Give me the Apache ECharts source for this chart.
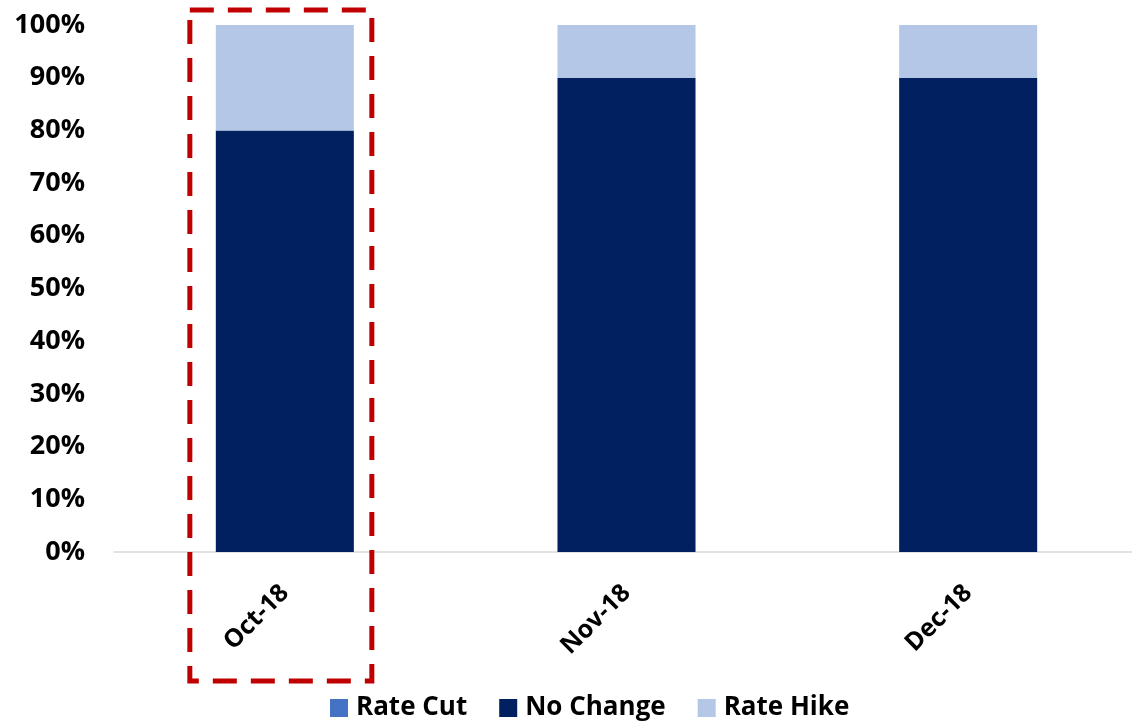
<!DOCTYPE html>
<html>
<head>
<meta charset="utf-8">
<script src="https://cdn.jsdelivr.net/npm/echarts@6/dist/echarts.min.js"></script>
<style>
  html, body { margin: 0; padding: 0; background: #fff; overflow: hidden; }
  #chart { width: 1139px; height: 727px; }
</style>
</head>
<body>
<div id="chart"></div>
<script>
const categories = ['Oct-18', 'Nov-18', 'Dec-18'];
const rateCut = [0, 0, 0];
const noChange = [80, 90, 90];
const rateHike = [20, 10, 10];

const chart = echarts.init(document.getElementById('chart'));
const font = '"Open Sans", "Liberation Sans", sans-serif';

const barSeries = (name, data, color) => ({
  name,
  type: 'bar',
  stack: 'total',
  data,
  barWidth: '40.4%',
  itemStyle: { color }
});

chart.setOption({
  animation: false,
  textStyle: { fontFamily: font },
  grid: { left: 114, right: 0, top: 25, bottom: 175 },
  legend: {
    bottom: 1,
    left: 325,
    itemWidth: 18,
    itemHeight: 18,
    itemGap: 32,
    icon: 'rect',
    textStyle: { fontSize: 26, fontWeight: 'bold', color: '#000', fontFamily: font, padding: [0, 0, 0, 3] }
  },
  xAxis: {
    type: 'category',
    data: categories,
    axisLine: { lineStyle: { color: '#d9d9d9', width: 1.5 } },
    axisTick: { show: false },
    axisLabel: {
      rotate: 45,
      margin: 37,
      fontSize: 25,
      fontWeight: 'bold',
      color: '#000',
      fontFamily: font
    }
  },
  yAxis: {
    type: 'value',
    min: 0,
    max: 100,
    interval: 10,
    splitLine: { show: false },
    axisLine: { show: false },
    axisTick: { show: false },
    axisLabel: {
      formatter: '{value}%',
      margin: 29,
      fontSize: 27,
      fontWeight: 'bold',
      color: '#000',
      fontFamily: font
    }
  },
  series: [
    barSeries('Rate Cut', rateCut, '#4472C4'),
    barSeries('No Change', noChange, '#002060'),
    barSeries('Rate Hike', rateHike, '#B4C7E7')
  ]
});

// dashed highlight box around the first category
const cx = chart.convertToPixel({ xAxisIndex: 0 }, categories[0]);
const top100 = chart.convertToPixel({ yAxisIndex: 0 }, 100);
chart.setOption({
  graphic: [{
    type: 'rect',
    shape: { x: cx - 95, y: top100 - 15, width: 182, height: 671 },
    style: { fill: 'none', stroke: '#C00000', lineWidth: 5, lineDash: [24, 14] },
    z: 100
  }]
});
</script>
</body>
</html>
